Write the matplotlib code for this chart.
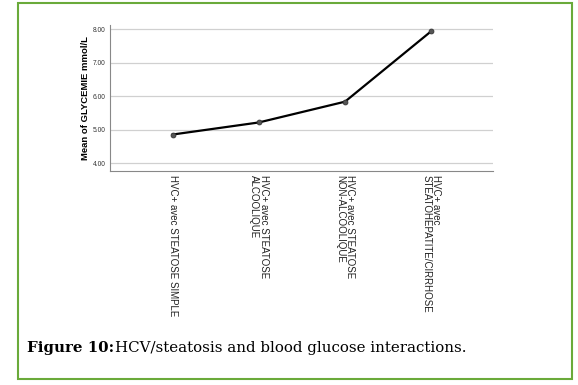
import matplotlib.pyplot as plt
from matplotlib.patches import Rectangle

# groups and mean glycemia (mmol/L)
groups = [
    "HVC+ avec STEATOSE SIMPLE",
    "HVC+ avec STEATOSE\nALCOOLIQUE",
    "HVC+ avec STEATOSE\nNON-ALCOOLIQUE",
    "HVC+ avec\nSTEATOHEPATITE/CIRRHOSE",
]
glycemie = [4.86, 5.22, 5.84, 7.94]
yticks = [4.0, 5.0, 6.0, 7.0, 8.0]

W, H = 578, 385
fig = plt.figure(figsize=(W / 100, H / 100), dpi=100)

# axes box in pixels: left 110, right 493, top 25, bottom 171
ax = fig.add_axes([110 / W, 1 - 171 / H, (493 - 110) / W, (171 - 25) / H])
x = list(range(len(groups)))
ax.plot(x, glycemie, color="black", lw=1.6, marker="o", ms=3.5,
        mfc="#555555", mec="#333333", mew=0.6, zorder=3)

ax.set_xlim(-0.73, 3.72)
ax.set_ylim(3.77, 8.13)
ax.set_yticks(yticks)
ax.set_yticklabels([f"{v:.2f}" for v in yticks], fontsize=4.8,
                   family="Liberation Sans", color="#333333")
ax.set_xticks(x)
ax.set_xticklabels(groups, rotation=-90, fontsize=7, family="Liberation Sans",
                   color="#222222", va="top", ha="center", multialignment="left",
                   linespacing=0.95)
ax.tick_params(axis="both", length=0, pad=3)
ax.grid(axis="y", color="#d0d0d0", lw=0.9)
ax.set_axisbelow(True)
for side in ("top", "right"):
    ax.spines[side].set_visible(False)
for side in ("left", "bottom"):
    ax.spines[side].set_color("#888888")
    ax.spines[side].set_linewidth(0.8)
ax.set_ylabel("Mean of GLYCEMIE mmol/L", fontsize=6.8, fontweight="bold",
              family="Liberation Sans", labelpad=2)

# green frame around the figure
fig.patches.append(Rectangle((18 / W, 1 - 379 / H), (572 - 18) / W, (379 - 3) / H,
                             transform=fig.transFigure, fill=False,
                             edgecolor="#6aaa3a", lw=1.5))

fig.text(27 / W, 1 - 348 / H, "Figure 10:", fontsize=10.8, fontweight="bold",
         family="DejaVu Serif", va="center")
fig.text(115 / W, 1 - 348 / H, "HCV/steatosis and blood glucose interactions.",
         fontsize=10.8, family="DejaVu Serif", va="center")

fig.savefig("out.png", dpi=100)
